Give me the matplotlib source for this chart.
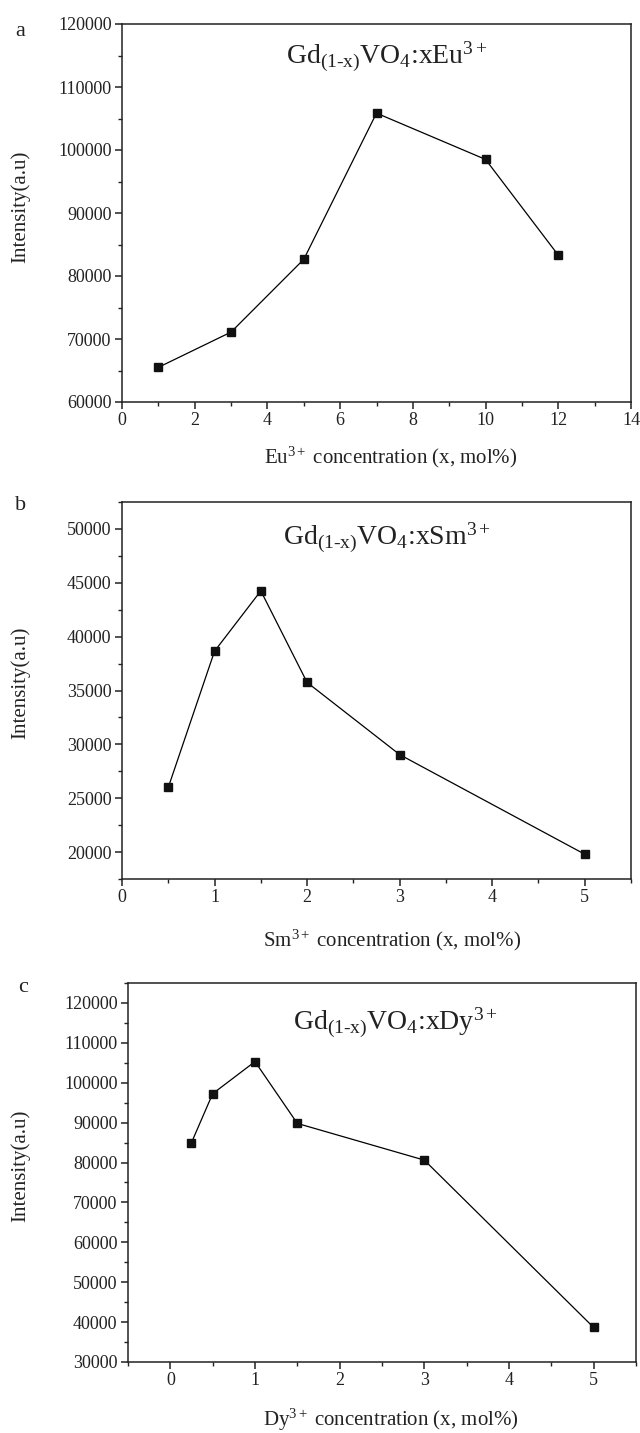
import matplotlib
matplotlib.use("Agg")
import matplotlib.pyplot as plt
from matplotlib.ticker import MultipleLocator

plt.rcParams['font.family'] = ['Liberation Serif', 'DejaVu Serif']
plt.rcParams['mathtext.fontset'] = 'custom'
plt.rcParams['mathtext.rm'] = 'Liberation Serif'
plt.rcParams['mathtext.it'] = 'Liberation Serif:italic'
plt.rcParams['mathtext.bf'] = 'Liberation Serif:bold'

# ---- data ----
eu_x = [1, 3, 5, 7, 10, 12]
eu_y = [65500, 71100, 82650, 105850, 98500, 83300]

sm_x = [0.5, 1, 1.5, 2, 3, 5]
sm_y = [26000, 38650, 44250, 35750, 29050, 19800]

dy_x = [0.25, 0.5, 1, 1.5, 3, 5]
dy_y = [85000, 97250, 105300, 89800, 80600, 38650]

panel_letters = ['a', 'b', 'c']
titles = [r'Gd$_{\mathrm{(1\text{-}x)}}$VO$_4$:xEu$^{3+}$',
          r'Gd$_{\mathrm{(1\text{-}x)}}$VO$_4$:xSm$^{3+}$',
          r'Gd$_{\mathrm{(1\text{-}x)}}$VO$_4$:xDy$^{3+}$']
xlabels = [r'Eu$^{3+}$ concentration (x, mol%)',
           r'Sm$^{3+}$ concentration (x, mol%)',
           r'Dy$^{3+}$ concentration (x, mol%)']
ylabel = 'Intensity(a.u)'

W, H = 640, 1433
fig = plt.figure(figsize=(W / 100, H / 100), dpi=100)

def rect(l, r, t, b):
    return [l / W, 1 - b / H, (r - l) / W, (b - t) / H]

TXT = '#222222'

specs = [
    dict(rect=rect(122, 631, 24, 402), x=eu_x, y=eu_y, xlim=(0, 14), ylim=(60000, 120000),
         xmaj=2, xmin=1, ymaj=10000, ymin=5000, title_pos=(0.52, 0.895),
         xl=(0.528, -0.146), yl=(-0.2, 0.516), letter=(15, 32)),
    dict(rect=rect(122, 631, 502, 879), x=sm_x, y=sm_y, xlim=(0, 5.5), ylim=(17500, 52500),
         xmaj=1, xmin=0.5, ymaj=5000, ymin=2500, title_pos=(0.52, 0.888),
         xl=(0.53, -0.162), yl=(-0.2, 0.52), letter=(15, 506)),
    dict(rect=rect(128, 636, 983, 1362), x=dy_x, y=dy_y, xlim=(-0.5, 5.5), ylim=(30000, 125000),
         xmaj=1, xmin=0.5, ymaj=10000, ymin=5000, title_pos=(0.527, 0.876),
         xl=(0.518, -0.153), yl=(-0.212, 0.517), letter=(18, 988)),
]

for i, s in enumerate(specs):
    ax = fig.add_axes(s['rect'])
    ax.plot(s['x'], s['y'], color='black', lw=0.9, marker='s', ms=6.2,
            markerfacecolor='#111111', markeredgecolor='#111111')
    ax.set_xlim(*s['xlim'])
    ax.set_ylim(*s['ylim'])
    ax.xaxis.set_major_locator(MultipleLocator(s['xmaj']))
    ax.xaxis.set_minor_locator(MultipleLocator(s['xmin']))
    ax.yaxis.set_major_locator(MultipleLocator(s['ymaj']))
    ax.yaxis.set_minor_locator(MultipleLocator(s['ymin']))
    ax.tick_params(which='major', direction='out', length=5, width=1.1,
                   labelsize=13, labelcolor=TXT, color='#222222', pad=2.5,
                   top=False, right=False)
    ax.tick_params(which='minor', direction='out', length=3, width=1.0,
                   color='#222222', top=False, right=False)
    for sp in ax.spines.values():
        sp.set_linewidth(1.1)
        sp.set_color('#222222')
    ax.text(s['title_pos'][0], s['title_pos'][1], titles[i], transform=ax.transAxes,
            ha='center', va='baseline', fontsize=20, color=TXT)
    ax.set_xlabel(xlabels[i], fontsize=15, color=TXT)
    ax.xaxis.set_label_coords(*s['xl'])
    ax.xaxis.label.set_va('center')
    ax.set_ylabel(ylabel, fontsize=15, color=TXT)
    ax.yaxis.set_label_coords(*s['yl'])
    ax.yaxis.label.set_va('center')
    lx, ly = s['letter']
    fig.text(lx / W, 1 - ly / H, panel_letters[i], fontsize=16, color=TXT,
             ha='left', va='center')

fig.savefig('out.png', dpi=100)
